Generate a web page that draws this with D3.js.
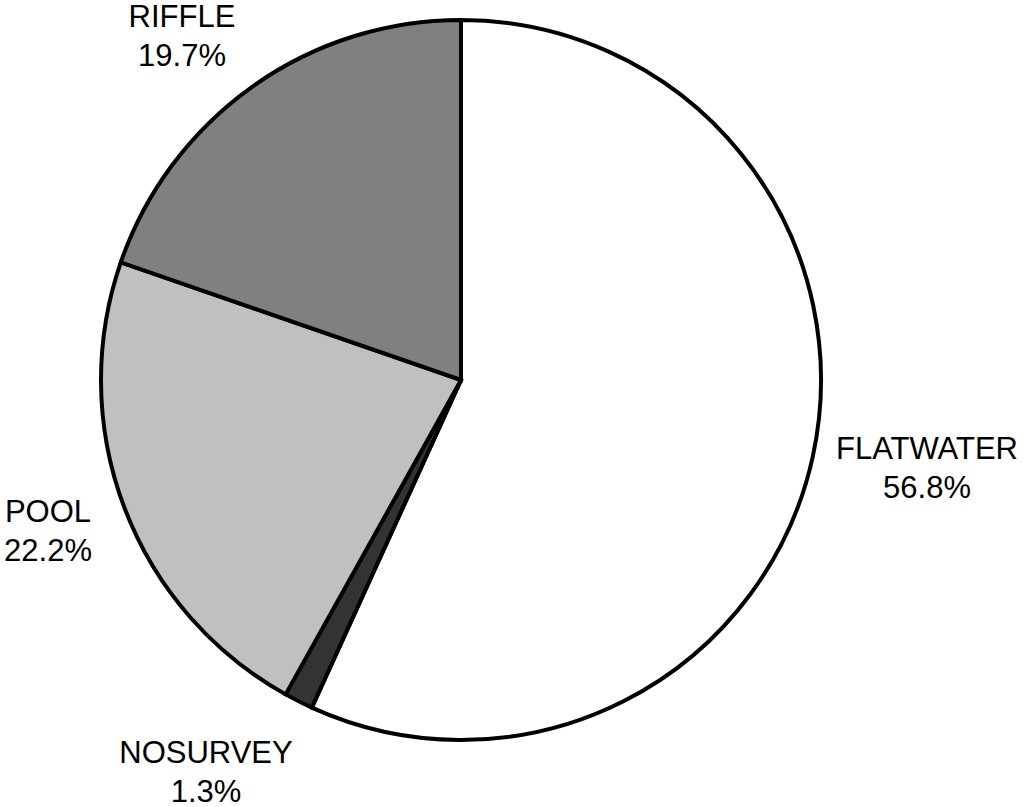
<!DOCTYPE html>
<html>
<head>
<meta charset="utf-8">
<script src="https://cdn.jsdelivr.net/npm/d3@7/dist/d3.min.js"></script>
<style>
  html, body { margin: 0; padding: 0; background: #fff; }
  svg { display: block; }
  text { font-family: "Liberation Sans", Arial, sans-serif; fill: #000; }
</style>
</head>
<body>
<svg id="chart" width="1025" height="807"></svg>
<script>
// Habitat share of surveyed reach length, clockwise from 12 o'clock
const categories = ["FLATWATER", "NOSURVEY", "POOL", "RIFFLE"];
const percents = [56.8, 1.3, 22.2, 19.7];
const fills = ["#ffffff", "#333333", "#c0c0c0", "#808080"];

const W = 1025, H = 807;
const cx = 461, cy = 380, R = 360;

// Label centre per slice (x, baseline of the first line) — placed around the pie
const labelPos = {
  FLATWATER: [927, 459],
  NOSURVEY: [206, 763],
  POOL: [48, 522],
  RIFFLE: [182, 27]
};

const svg = d3.select("#chart");
const g = svg.append("g").attr("transform", `translate(${cx},${cy})`);

const data = categories.map((c, i) => ({ name: c, value: percents[i], fill: fills[i] }));

const pie = d3.pie().value(d => d.value).sort(null);
const arc = d3.arc().innerRadius(0).outerRadius(R);

g.selectAll("path.slice")
  .data(pie(data))
  .join("path")
  .attr("class", "slice")
  .attr("d", arc)
  .attr("fill", d => d.data.fill)
  .attr("stroke", "#000")
  .attr("stroke-width", 4)
  .attr("stroke-linejoin", "miter");

const labels = svg.selectAll("text.lbl")
  .data(data)
  .join("text")
  .attr("class", "lbl")
  .attr("text-anchor", "middle")
  .attr("font-size", 31)
  .attr("x", d => labelPos[d.name][0])
  .attr("y", d => labelPos[d.name][1]);

labels.append("tspan")
  .attr("x", d => labelPos[d.name][0])
  .text(d => d.name);
labels.append("tspan")
  .attr("x", d => labelPos[d.name][0])
  .attr("dy", 38.5)
  .text(d => d3.format(".1f")(d.value) + "%");
</script>
</body>
</html>
